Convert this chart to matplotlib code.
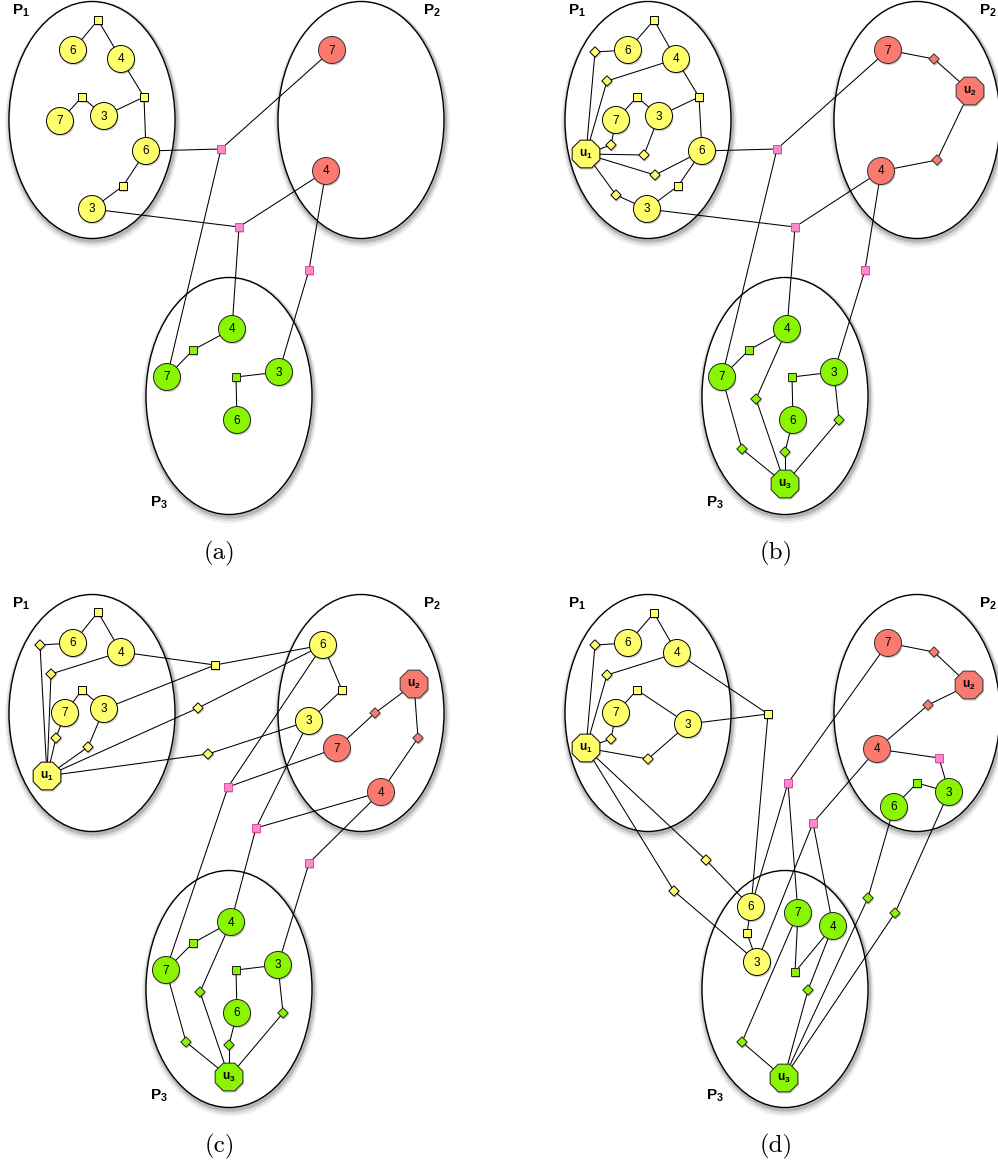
import matplotlib
matplotlib.use('Agg')
import matplotlib.pyplot as plt
from matplotlib.patches import Ellipse, Circle, RegularPolygon
import numpy as np

plt.rcParams['font.family'] = ['Liberation Sans', 'DejaVu Sans']
plt.rcParams['mathtext.fontset'] = 'custom'
plt.rcParams['mathtext.rm'] = 'Liberation Sans'
plt.rcParams['mathtext.bf'] = 'Liberation Sans:bold'

FILL = {'y': '#FFFF6E', 'r': '#FA7A70', 'g': '#8AF500', 'p': '#FF88CC'}
EDGE = {'y': 'black', 'r': '#333333', 'g': '#222222', 'p': '#E2479C'}

# panels: caption and top-left origin (pixels)
captions = ['(a)', '(b)', '(c)', '(d)']
origins = [(0, 0), (556, 0), (0, 593), (556, 593)]

# partitions (same place inside every panel)
part_labels = ['1', '2', '3']
part_centres = [(92, 120), (361, 120), (229, 396)]
part_label_pos = [(12, 11), (423, 11), (150, 503)]

# nodes: key -> (shape, colour, label, x, y)   c=circle s=square d=diamond o=octagon
a_nodes = {
    'y6': ('c', 'y', '6', 73, 50), 'y4': ('c', 'y', '4', 121, 59),
    'y7': ('c', 'y', '7', 60, 121), 'y3': ('c', 'y', '3', 104, 116),
    'y6b': ('c', 'y', '6', 146, 151), 'y3b': ('c', 'y', '3', 92, 209),
    's1': ('s', 'y', '', 98, 20), 's2': ('s', 'y', '', 82, 97),
    's3': ('s', 'y', '', 144, 97), 's4': ('s', 'y', '', 123, 186),
    'r7': ('c', 'r', '7', 332, 50), 'r4': ('c', 'r', '4', 326, 171),
    'g4': ('c', 'g', '4', 232, 329), 'g7': ('c', 'g', '7', 167, 377),
    'g3': ('c', 'g', '3', 279, 372), 'g6': ('c', 'g', '6', 237, 420),
    'gs1': ('s', 'g', '', 193, 350), 'gs2': ('s', 'g', '', 236, 377),
    'p1': ('s', 'p', '', 221, 149), 'p2': ('s', 'p', '', 239, 227), 'p3': ('s', 'p', '', 309, 270),
}
a_edges = ('y6-s1 s1-y4 y4-s3 s3-y6b y3-s3 y7-s2 s2-y3 y6b-s4 s4-y3b y6b-p1 p1-r7 p1-g7 '
           'y3b-p2 p2-r4 p2-g4 r4-p3 p3-g3 g4-gs1 gs1-g7 g3-gs2 gs2-g6')

green_nodes = {
    'g4': ('c', 'g', '4', 231, 329), 'gs1': ('s', 'g', '', 193, 350), 'g7': ('c', 'g', '7', 166, 377),
    'g3': ('c', 'g', '3', 278, 372), 'gs2': ('s', 'g', '', 236, 377), 'g6': ('c', 'g', '6', 237, 420),
    'gd1': ('d', 'g', '', 200, 399), 'gd2': ('d', 'g', '', 283, 420), 'gd3': ('d', 'g', '', 186, 449),
    'gd4': ('d', 'g', '', 229, 452), 'u3': ('o', 'g', '3', 229, 484),
}
green_edges = 'g4-gs1 gs1-g7 g3-gs2 gs2-g6 g4-gd1 gd1-u3 g3-gd2 gd2-u3 g7-gd3 gd3-u3 g6-gd4 gd4-u3'

b_nodes = {
    'y6': ('c', 'y', '6', 72, 50), 'y4': ('c', 'y', '4', 120, 59),
    'y7': ('c', 'y', '7', 60, 120), 'y3': ('c', 'y', '3', 103, 116),
    'y6b': ('c', 'y', '6', 146, 151), 'y3b': ('c', 'y', '3', 91, 209),
    's1': ('s', 'y', '', 98, 20), 's2': ('s', 'y', '', 81, 97),
    's3': ('s', 'y', '', 143, 97), 's4': ('s', 'y', '', 122, 186),
    'u1': ('o', 'y', '1', 30, 154),
    'd1': ('d', 'y', '', 39, 52), 'd2': ('d', 'y', '', 51, 81), 'd3': ('d', 'y', '', 55, 145),
    'd4': ('d', 'y', '', 88, 155), 'd5': ('d', 'y', '', 99, 175), 'd6': ('d', 'y', '', 60, 195),
    'r7': ('c', 'r', '7', 332, 50), 'rd1': ('d', 'r', '', 378, 59), 'u2': ('o', 'r', '2', 414, 91),
    'rd2': ('d', 'r', '', 381, 160), 'r4': ('c', 'r', '4', 325, 171),
    'p1': ('s', 'p', '', 221, 149), 'p2': ('s', 'p', '', 239, 227), 'p3': ('s', 'p', '', 309, 270),
}
b_nodes.update(green_nodes)
b_edges = ('y6-s1 s1-y4 y4-s3 s3-y6b y3-s3 y7-s2 s2-y3 y6b-s4 s4-y3b y6b-p1 p1-r7 p1-g7 '
           'y3b-p2 p2-r4 p2-g4 r4-p3 p3-g3 u1-d1 d1-y6 u1-d2 d2-y4 u1-d3 d3-y7 u1-d4 d4-y3 '
           'u1-d5 d5-y6b u1-d6 d6-y3b r7-rd1 rd1-u2 u2-rd2 rd2-r4 ' + green_edges)

c_nodes = {
    'y6': ('c', 'y', '6', 73, 50), 'y4': ('c', 'y', '4', 121, 59),
    'y7': ('c', 'y', '7', 65, 120), 'y3': ('c', 'y', '3', 104, 116),
    's1': ('s', 'y', '', 98, 19), 's2': ('s', 'y', '', 82, 97),
    'd1': ('d', 'y', '', 40, 52), 'd2': ('d', 'y', '', 51, 81), 'd3': ('d', 'y', '', 56, 145),
    'd4': ('d', 'y', '', 88, 154), 'u1': ('o', 'y', '1', 47, 183),
    'ys': ('s', 'y', '', 215, 72), 'yd1': ('d', 'y', '', 198, 115), 'yd2': ('d', 'y', '', 208, 161),
    'y6p': ('c', 'y', '6', 323, 52), 'ys2': ('s', 'y', '', 342, 97), 'y3p': ('c', 'y', '3', 309, 128),
    'u2': ('o', 'r', '2', 414, 91), 'rd1': ('d', 'r', '', 375, 120), 'r7': ('c', 'r', '7', 337, 155),
    'rd2': ('d', 'r', '', 418, 145), 'r4': ('c', 'r', '4', 381, 199),
    'p1': ('s', 'p', '', 228, 194), 'p2': ('s', 'p', '', 256, 235), 'p3': ('s', 'p', '', 309, 270),
}
c_nodes.update(green_nodes)
c_edges = ('y6-s1 s1-y4 y7-s2 s2-y3 u1-d1 d1-y6 u1-d2 d2-y4 u1-d3 d3-y7 u1-d4 d4-y3 '
           'y4-ys ys-y6p y3-ys u1-yd1 yd1-y6p u1-yd2 yd2-y3p y6p-ys2 ys2-y3p '
           'u2-rd1 rd1-r7 u2-rd2 rd2-r4 y6p-p1 r7-p1 p1-g7 y3p-p2 r4-p2 p2-g4 r4-p3 p3-g3 ' + green_edges)

d_nodes = {
    'y6': ('c', 'y', '6', 72, 50), 'y4': ('c', 'y', '4', 121, 60),
    'y7': ('c', 'y', '7', 60, 120), 'y3': ('c', 'y', '3', 132, 131),
    's1': ('s', 'y', '', 98, 20), 's2': ('s', 'y', '', 81, 97),
    'd1': ('d', 'y', '', 39, 52), 'd2': ('d', 'y', '', 51, 82), 'd3': ('d', 'y', '', 55, 146),
    'd4': ('d', 'y', '', 92, 166), 'u1': ('o', 'y', '1', 30, 155),
    'ys': ('s', 'y', '', 212, 121), 'yd1': ('d', 'y', '', 150, 267), 'yd2': ('d', 'y', '', 118, 298),
    'y6p': ('c', 'y', '6', 195, 314), 'ys2': ('s', 'y', '', 191, 340), 'y3p': ('c', 'y', '3', 201, 369),
    'r7': ('c', 'r', '7', 332, 50), 'rd1': ('d', 'r', '', 378, 59), 'u2': ('o', 'r', '2', 413, 92),
    'rd2': ('d', 'r', '', 372, 112), 'r4': ('c', 'r', '4', 321, 156),
    'p1': ('s', 'p', '', 232, 190), 'p2': ('s', 'p', '', 257, 230), 'p3': ('s', 'p', '', 383, 165),
    'gs1': ('s', 'g', '', 361, 190), 'g6': ('c', 'g', '6', 338, 214), 'g3': ('c', 'g', '3', 393, 199),
    'g7': ('c', 'g', '7', 242, 320), 'g4': ('c', 'g', '4', 277, 333), 'gs2': ('s', 'g', '', 239, 379),
    'gd1': ('d', 'g', '', 252, 397), 'gd2': ('d', 'g', '', 186, 449), 'u3': ('o', 'g', '3', 228, 485),
    'gd3': ('d', 'g', '', 312, 305), 'gd4': ('d', 'g', '', 339, 320),
}
d_edges = ('y6-s1 s1-y4 y7-s2 s2-y3 u1-d1 d1-y6 u1-d2 d2-y4 u1-d3 d3-y7 u1-d4 d4-y3 '
           'y4-ys y3-ys ys-y6p u1-yd1 yd1-y6p u1-yd2 yd2-y3p y6p-ys2 ys2-y3p '
           'r7-p1 p1-y6p p1-g7 r4-p2 p2-y3p p2-g4 r7-rd1 rd1-u2 u2-rd2 rd2-r4 r4-p3 p3-g3 '
           'g6-gs1 gs1-g3 g6-gd3 gd3-u3 g3-gd4 gd4-u3 g7-gs2 gs2-g4 g4-gd1 gd1-u3 g7-gd2 gd2-u3')

panels = [(a_nodes, a_edges), (b_nodes, b_edges), (c_nodes, c_edges), (d_nodes, d_edges)]


def node_patch(shape, x, y, fc, ec, lw=0.7):
    if shape == 'c':
        return Circle((x, y), 13.5, fc=fc, ec=ec, lw=lw)
    if shape == 's':
        return RegularPolygon((x, y), 4, radius=5.6, orientation=np.pi / 4, fc=fc, ec=ec, lw=lw)
    if shape == 'd':
        return RegularPolygon((x, y), 4, radius=5.2, orientation=0, fc=fc, ec=ec, lw=lw)
    return RegularPolygon((x, y), 8, radius=15.0, orientation=np.pi / 8, fc=fc, ec=ec, lw=lw)


fig = plt.figure(figsize=(9.98, 11.68), dpi=100)
ax = fig.add_axes([0, 0, 1, 1])
ax.set_xlim(0, 998)
ax.set_ylim(1168, 0)
ax.axis('off')

for (ox, oy), cap, (nodes, edges) in zip(origins, captions, panels):
    # partitions with soft shadow
    for (cx, cy), lab, (lx, ly) in zip(part_centres, part_labels, part_label_pos):
        for off, lw, a in [(4, 7, 0.06), (3, 5, 0.09), (2, 3, 0.16)]:
            ax.add_patch(Ellipse((ox + cx + 1, oy + cy + off), 166, 237, fc='none',
                                 ec='black', lw=lw, alpha=a, zorder=1))
        ax.add_patch(Ellipse((ox + cx, oy + cy), 166, 237, fc='white', ec='black', lw=1.0, zorder=2))
        ax.text(ox + lx, oy + ly, r'$\mathbf{P_%s}$' % lab, fontsize=11, ha='left', va='center', zorder=6)

    for e in edges.split():
        k1, k2 = e.split('-')
        x1, y1 = nodes[k1][3], nodes[k1][4]
        x2, y2 = nodes[k2][3], nodes[k2][4]
        ax.plot([ox + x1, ox + x2], [oy + y1, oy + y2], color='black', lw=0.75, zorder=3,
                solid_capstyle='butt')

    for key, (shape, col, lab, x, y) in nodes.items():
        sh = node_patch(shape, ox + x + 1, oy + y + 1.8, 'black', 'none', lw=0)
        sh.set_alpha(0.18)
        sh.set_zorder(4)
        ax.add_patch(sh)
        p = node_patch(shape, ox + x, oy + y, FILL[col], EDGE[col])
        p.set_zorder(5)
        ax.add_patch(p)
        if shape == 'c':
            ax.text(ox + x, oy + y + 0.5, lab, fontsize=8.5, ha='center', va='center', zorder=6)
        elif shape == 'o':
            ax.text(ox + x, oy + y, r'$\mathbf{u_%s}$' % lab, fontsize=8.5, ha='center',
                    va='center', zorder=6)

    ax.text(ox + 220, oy + 553, cap, fontsize=18, family='cmr10', ha='center', va='center')

fig.savefig('out.png', dpi=100)
